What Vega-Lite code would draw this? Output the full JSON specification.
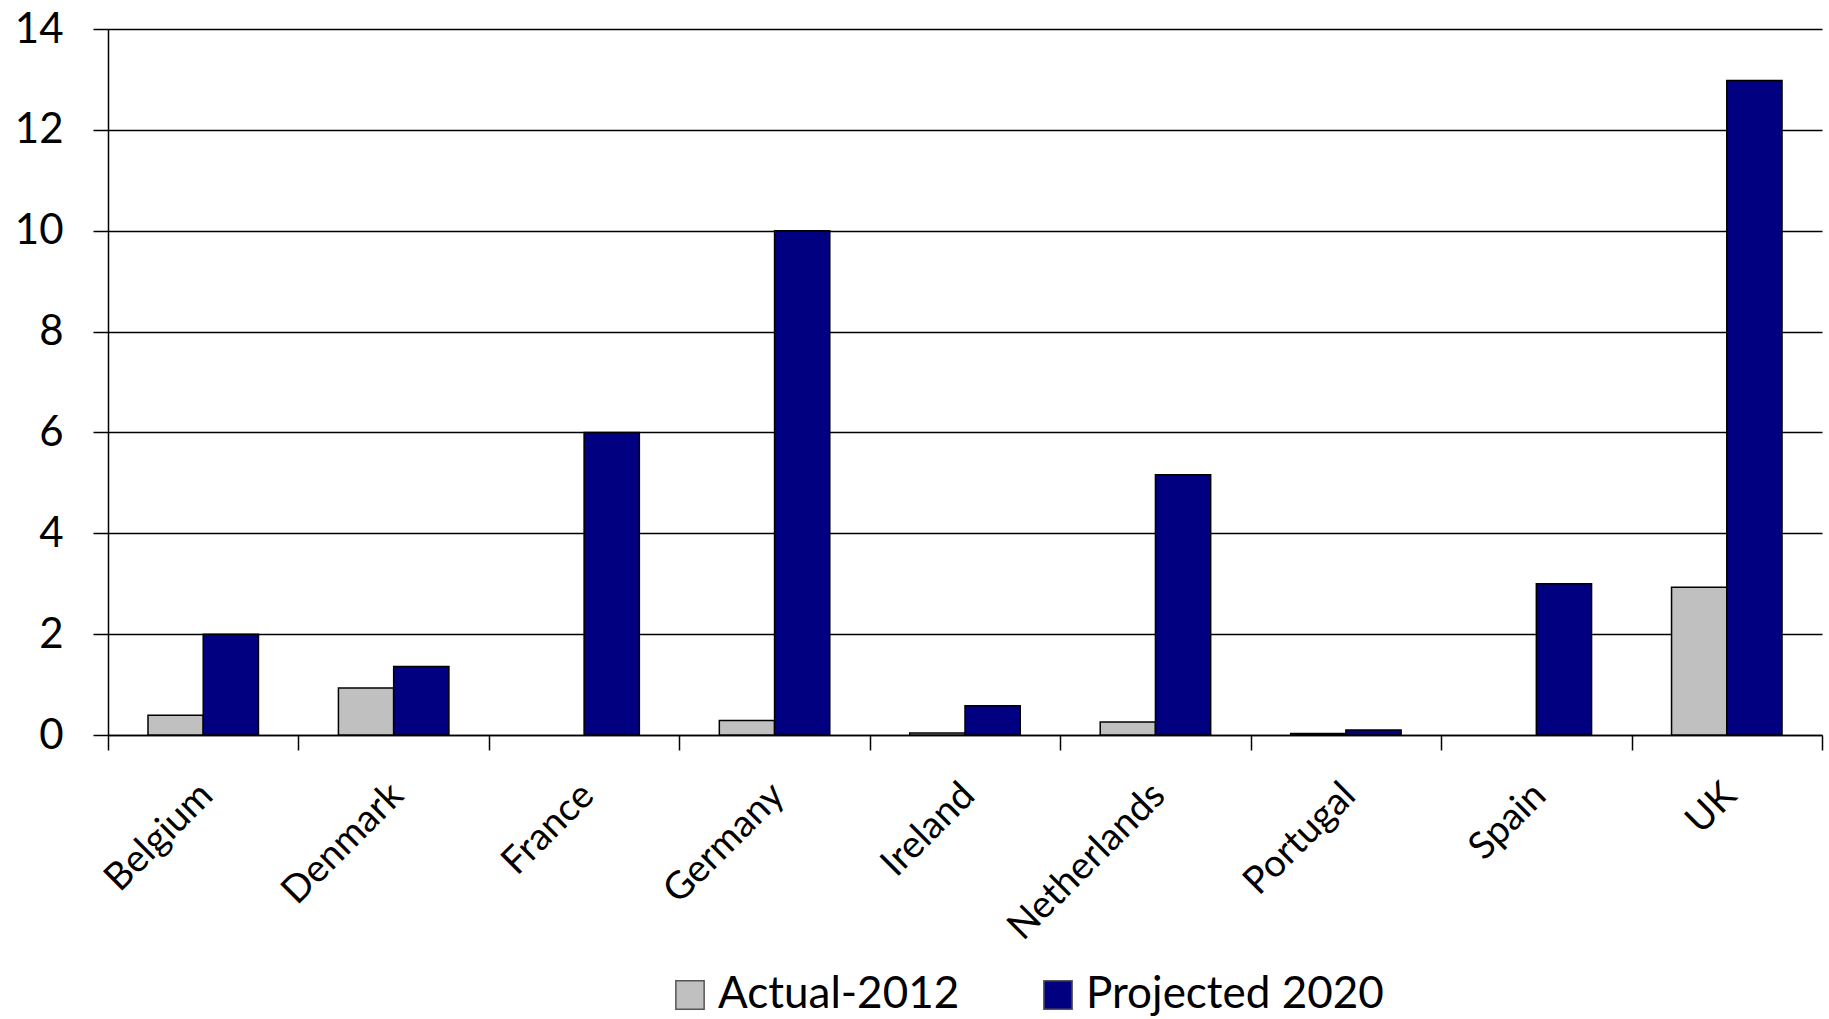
{
  "$schema": "https://vega.github.io/schema/vega-lite/v6.json",
  "width": 1714,
  "height": 706,
  "autosize": {"type": "none"},
  "padding": {"left": 108, "top": 29, "right": 7, "bottom": 284},
  "background": "white",
  "config": {
    "view": {"stroke": null},
    "font": "Lato"
  },
  "data": {
    "values": [
      {"country": "Belgium", "series": "Actual-2012", "value": 0.39},
      {"country": "Belgium", "series": "Projected 2020", "value": 2.0},
      {"country": "Denmark", "series": "Actual-2012", "value": 0.93},
      {"country": "Denmark", "series": "Projected 2020", "value": 1.36},
      {"country": "France", "series": "Projected 2020", "value": 6.0},
      {"country": "Germany", "series": "Actual-2012", "value": 0.29},
      {"country": "Germany", "series": "Projected 2020", "value": 10.0},
      {"country": "Ireland", "series": "Actual-2012", "value": 0.04},
      {"country": "Ireland", "series": "Projected 2020", "value": 0.58},
      {"country": "Netherlands", "series": "Actual-2012", "value": 0.26},
      {"country": "Netherlands", "series": "Projected 2020", "value": 5.16},
      {"country": "Portugal", "series": "Actual-2012", "value": 0.03},
      {"country": "Portugal", "series": "Projected 2020", "value": 0.1},
      {"country": "Spain", "series": "Projected 2020", "value": 3.0},
      {"country": "UK", "series": "Actual-2012", "value": 2.93},
      {"country": "UK", "series": "Projected 2020", "value": 12.98}
    ]
  },
  "mark": {"type": "bar", "stroke": "black", "strokeWidth": 1.5},
  "encoding": {
    "x": {
      "field": "country",
      "type": "nominal",
      "sort": null,
      "scale": {"paddingInner": 0, "paddingOuter": 0},
      "axis": {
        "title": null,
        "labelAngle": -45,
        "tickBand": "extent",
        "tickSize": 15,
        "tickWidth": 1.5,
        "tickColor": "black",
        "domainColor": "black",
        "domainWidth": 1.5,
        "labelFontSize": 38,
        "labelColor": "black",
        "labelPadding": 26,
        "labelOffset": -10,
        "labelLimit": 0
      }
    },
    "xOffset": {
      "field": "series",
      "type": "nominal",
      "sort": ["Actual-2012", "Projected 2020"],
      "scale": {"paddingInner": 0, "paddingOuter": 0.724}
    },
    "y": {
      "field": "value",
      "type": "quantitative",
      "scale": {"domain": [0, 14], "nice": false},
      "axis": {
        "title": null,
        "values": [0, 2, 4, 6, 8, 10, 12, 14],
        "grid": true,
        "gridColor": "black",
        "gridWidth": 1.5,
        "gridOpacity": 1,
        "tickSize": 15,
        "tickWidth": 1.5,
        "tickColor": "black",
        "domainColor": "black",
        "domainWidth": 1.5,
        "labelFontSize": 42,
        "labelColor": "black",
        "labelPadding": 30
      }
    },
    "color": {
      "field": "series",
      "type": "nominal",
      "scale": {"domain": ["Actual-2012", "Projected 2020"], "range": ["#C0C0C0", "#000080"]},
      "legend": {
        "title": null,
        "orient": "none",
        "legendX": 560,
        "legendY": 944,
        "direction": "horizontal",
        "symbolType": "square",
        "symbolSize": 800,
        "symbolStrokeColor": "#555555",
        "symbolStrokeWidth": 1.5,
        "labelFontSize": 44,
        "labelColor": "black",
        "labelLimit": 0,
        "labelOffset": 6,
        "columnPadding": 76
      }
    }
  }
}
